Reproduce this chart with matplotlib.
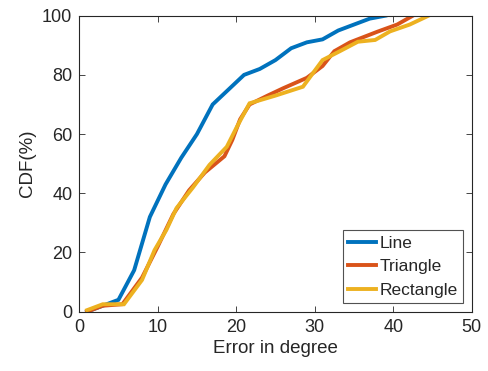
import matplotlib
matplotlib.use("Agg")
import matplotlib.pyplot as plt

plt.rcParams['font.family'] = ['Liberation Sans', 'DejaVu Sans']

line_x = [1, 3, 5, 7, 9, 11, 13, 15, 17, 19, 21, 23, 25, 27, 29, 31, 33, 35, 37, 39]
line_y = [0, 2, 4, 14, 32, 43, 52, 60, 70, 75, 80, 82, 85, 89, 91, 92, 95, 97, 99, 100]

tri_x = [1, 3, 5.5, 8, 10, 12, 14, 16, 18.5, 19.5, 20.5, 21.7, 24, 26, 29, 31, 32.5, 34.5, 38, 40.5, 42.5]
tri_y = [0, 2, 2.5, 11.5, 22, 33, 41, 47, 52.5, 58, 65, 70, 73, 75.5, 79, 83, 88, 91, 94.6, 97, 100]

rect_x = [1, 3, 5.7, 8, 9.6, 11.1, 12.4, 14.5, 16.6, 18.8, 20.1, 21.7, 25, 28.5, 31, 33.2, 35.5, 37.7, 39.6, 42.1, 44.5]
rect_y = [0.5, 2.5, 2.5, 10.7, 20.8, 27.6, 35, 42, 49.6, 55.7, 62.5, 70.4, 73, 76, 85, 88, 91.2, 91.8, 94.7, 97, 100]

labels = ['Line', 'Triangle', 'Rectangle']
colors = ['#0072BD', '#D95319', '#EDB120']

fig = plt.figure(figsize=(4.89, 3.71), dpi=100)
ax = fig.add_axes([0.162, 0.16, 0.8026, 0.7977])

for xs, ys, lab, c in zip([line_x, tri_x, rect_x], [line_y, tri_y, rect_y], labels, colors):
    ax.plot(xs, ys, color=c, lw=2.8, label=lab, solid_joinstyle='miter')

ax.set_xlim(0, 50)
ax.set_ylim(0, 100)
ax.set_xticks(range(0, 51, 10))
ax.set_yticks(range(0, 101, 20))
ax.tick_params(direction='in', top=True, right=True, labelsize=13, colors='#262626',
               length=4, width=0.6, pad=5)
for s in ax.spines.values():
    s.set_color('#262626')
    s.set_linewidth(0.8)
ax.set_xlabel('Error in degree', fontsize=13.5, color='#262626', labelpad=3)
ax.set_ylabel('CDF(%)', fontsize=13.5, color='#262626', labelpad=4)

leg = ax.legend(loc='lower right', fontsize=12.5, frameon=True, fancybox=False,
                edgecolor='#262626', handlelength=1.6, handletextpad=0.2,
                borderpad=0.3, labelspacing=0.48, borderaxespad=0.5)
leg.get_frame().set_linewidth(0.8)
for t in leg.get_texts():
    t.set_color('#262626')

fig.savefig('out.png', dpi=100)
